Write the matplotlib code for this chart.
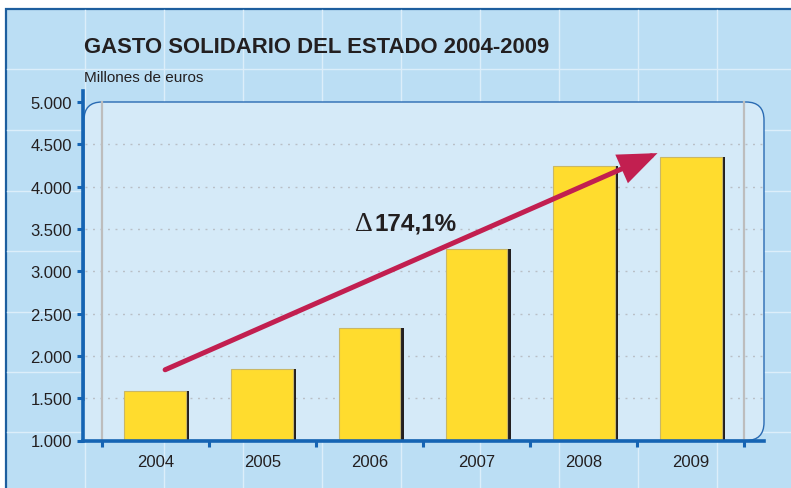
import matplotlib
matplotlib.use("Agg")
import matplotlib.pyplot as plt
from matplotlib.patches import Rectangle, FancyBboxPatch
from matplotlib.lines import Line2D
from matplotlib.transforms import IdentityTransform
from matplotlib.ticker import FixedLocator, FuncFormatter

# ---- data ----
years = ["2004", "2005", "2006", "2007", "2008", "2009"]
values = [1587, 1840, 2325, 3260, 4250, 4350]
y_ticks = [1000, 1500, 2000, 2500, 3000, 3500, 4000, 4500, 5000]
title = "GASTO SOLIDARIO DEL ESTADO 2004-2009"
subtitle = "Millones de euros"
growth_label = "174,1%"

plt.rcParams['font.family'] = ['Liberation Sans', 'DejaVu Sans']

W, H = 791, 489
fig = plt.figure(figsize=(W / 100, H / 100), dpi=100, facecolor="white")
px = IdentityTransform()

OUTER = "#BBDEF4"
PANEL = "#D5EAF8"
BORDER = "#1D5E9E"
AXBLUE = "#1564B3"
TXT = "#231F20"

# outer background with border
fig.add_artist(Rectangle((5.5, -5), W, H - 9.5 + 5, transform=px,
                         facecolor=OUTER, edgecolor=BORDER, lw=1.6, zorder=0))
# light background grid
for gx in range(85, W, 79):
    fig.add_artist(Line2D([gx, gx], [0, H - 10.5], transform=px,
                          color="#DCEEFA", lw=1.0, zorder=0.5))
for gy in [70, 131, 192, 252, 313, 373, 433]:
    fig.add_artist(Line2D([6.5, W], [H - gy, H - gy], transform=px,
                          color="#DCEEFA", lw=1.0, zorder=0.5))

# axes placement (pixels)
ax_l, ax_r, ax_b, ax_t = 83, 764, 441.5, 92
ax = fig.add_axes([ax_l / W, (H - ax_b) / H, (ax_r - ax_l) / W, (ax_b - ax_t) / H])
ax.set_facecolor("none")
ax.set_zorder(2)

x_lo = -0.5 - (101.7 - ax_l) / 107.0
x_hi = 5.5 + (ax_r - 744.3) / 107.0
ax.set_xlim(x_lo, x_hi)
ppu = 42.3 / 500.0
ax.set_ylim(1000, 1000 + (ax_b - ax_t) / ppu)

# panel (rounded) drawn in pixels
p_l, p_r, p_b, p_t = 84, 764, H - ax_b, H - 103
panel = FancyBboxPatch((p_l, p_b), p_r - p_l, p_t - p_b,
                       boxstyle="round,pad=0,rounding_size=18", transform=px,
                       facecolor=PANEL, edgecolor="#2A6BB3", lw=1.0, zorder=1)
fig.add_artist(panel)
fig.add_artist(Rectangle((p_l, p_b), 40, 40, transform=px, facecolor=PANEL,
                         edgecolor="none", zorder=1.1))

# dotted gridlines
for yv in y_ticks[1:-1]:
    ax.axhline(yv, xmin=0.003, xmax=1.0, color="#B9BFC6", lw=1.0,
               linestyle=(0, (1.4, 4.0)), zorder=1, dash_capstyle="butt")
# light gray vertical lines at category boundaries
for xv in (-0.5, 5.5):
    ax.plot([xv, xv], [1000, 5000], color="#BDBDBD", lw=1.6, zorder=1)

# bars with shadow
xs = list(range(len(years)))
bw = 0.577
ax.bar([x + 0.03 for x in xs], values, width=bw, color="#231F20", zorder=2)
ax.bar(xs, values, width=bw, color="#FFDC2E", edgecolor="#C9B766", lw=0.8, zorder=3)

# arrow
ax.annotate("", xy=(4.69, 4397), xytext=(0.092, 1836),
            arrowprops=dict(arrowstyle="-|>,head_length=1.08,head_width=0.43",
                            mutation_scale=20, lw=3.6, color="#C21F50",
                            shrinkA=0, shrinkB=0, joinstyle="miter"),
            zorder=4)
ax.text(2.032, 3490, "\u0394", ha="right", va="baseline", fontsize=20,
        family=["Liberation Serif", "DejaVu Serif"], color=TXT, zorder=5)
ax.text(2.045, 3490, growth_label, ha="left", va="baseline", fontsize=17.5,
        fontweight="bold", color=TXT, zorder=5)

# spines and ticks
for s in ("top", "right"):
    ax.spines[s].set_visible(False)
for s in ("left", "bottom"):
    ax.spines[s].set_color(AXBLUE)
    ax.spines[s].set_linewidth(2.6)
ax.spines["bottom"].set_zorder(6)
ax.spines["left"].set_zorder(6)

ax.set_yticks(y_ticks)
ax.yaxis.set_major_formatter(FuncFormatter(lambda v, p: f"{int(v):,}".replace(",", ".")))
ax.tick_params(axis="y", direction="out", length=4.5, width=2.2, color=AXBLUE,
               labelsize=12, labelcolor=TXT, pad=3.5)
ax.set_xticks(xs, labels=years)
ax.tick_params(axis="x", which="major", length=0, labelsize=12, labelcolor=TXT, pad=10)
ax.xaxis.set_minor_locator(FixedLocator([x - 0.5 for x in range(len(years) + 1)]))
ax.tick_params(axis="x", which="minor", direction="out", length=4.5, width=2.2,
               color=AXBLUE)

# titles
fig.text(84 / W, (H - 53.3) / H, title, ha="left", va="baseline", fontsize=15.9,
         fontweight="bold", color=TXT)
fig.text(84 / W, (H - 82) / H, subtitle, ha="left", va="baseline", fontsize=11,
         color=TXT)

fig.savefig("out.png", dpi=100, facecolor="white")
